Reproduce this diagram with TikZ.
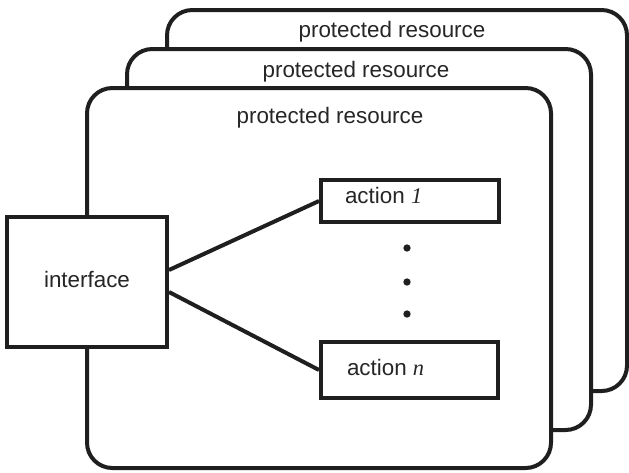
\documentclass[tikz,border=0pt]{standalone}
\usepackage{fontspec}
\setmainfont{Liberation Sans}
\newfontfamily\numfont{Liberation Serif}
\begin{document}
\begin{tikzpicture}[x=0.75pt,y=-0.75pt,
  line width=3pt,
  layer/.style={draw=black!88,fill=white,rounded corners=19pt},
  boxnode/.style={draw=black!88,fill=white,inner sep=0pt,rectangle},
  lbl/.style={font=\fontsize{16.8}{20}\selectfont,text=black!85,anchor=base,inner sep=0pt},
  dot/.style={circle,fill=black!88,inner sep=0pt,minimum size=5.5pt}]
  \useasboundingbox (0,0) rectangle (629,472);

  % three stacked resource layers, back to front
  \draw[layer] (167,10) rectangle (627,391);
  \draw[layer] (127,49) rectangle (591,430);
  \draw[layer] (87,88) rectangle (551,468);

  \node[lbl] (t3) at (392,37) {protected resource};
  \node[lbl] (t2) at (356,77) {protected resource};
  \node[lbl] (t1) at (330,123) {protected resource};

  % interface and actions
  \node[boxnode,minimum width=120pt,minimum height=97.5pt] (iface) at (87,282) {};
  \node[lbl] (itxt) at (87,287) {interface};

  \node[boxnode,minimum width=133.5pt,minimum height=31.5pt] (act1) at (410,201) {};
  \node[lbl,anchor=base west] (a1) at (343,203) {action {\numfont\itshape 1}};

  \node[boxnode,minimum width=132.75pt,minimum height=42pt] (actn) at (409.5,370) {};
  \node[lbl,anchor=base west] (an) at (345,375) {action {\numfont\itshape n}};

  \draw[black!88] ([yshift=9pt]iface.east) -- (act1.west);
  \draw[black!88] ([yshift=-7.5pt]iface.east) -- (actn.west);

  \node[dot] (d1) at (407,248) {};
  \node[dot] (d2) at (407,282) {};
  \node[dot] (d3) at (407,314) {};
\end{tikzpicture}
\end{document}
